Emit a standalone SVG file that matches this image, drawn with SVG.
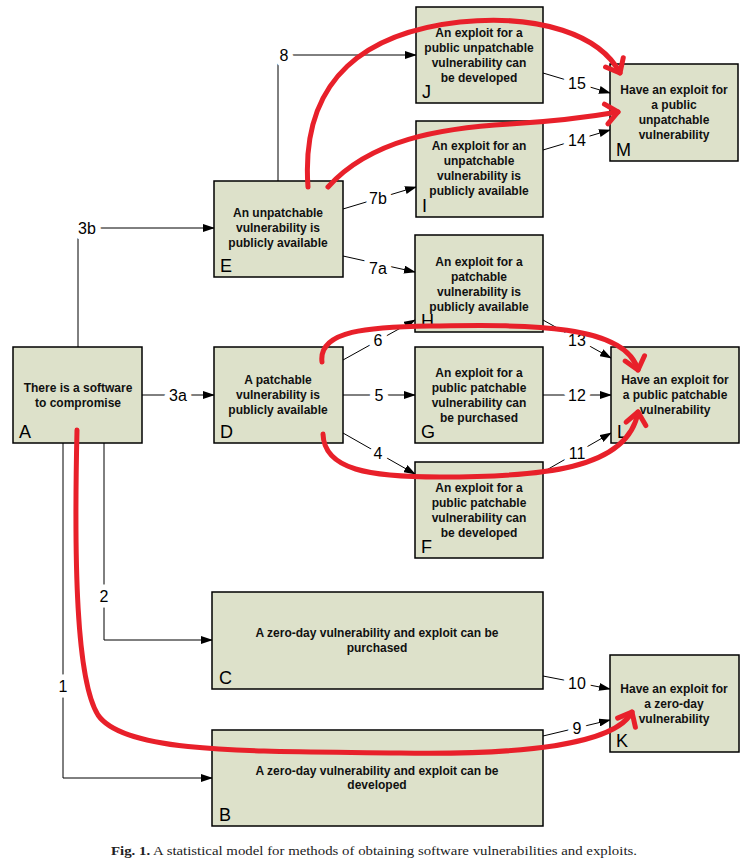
<svg xmlns="http://www.w3.org/2000/svg" width="749" height="866" viewBox="0 0 749 866">
<style>
.box{fill:#dde1ca;stroke:#000;stroke-width:1.5}
.t{font-family:"Liberation Sans",Arial,sans-serif;font-weight:bold;font-size:12px;text-anchor:middle;fill:#111}
.id{font-family:"Liberation Sans",Arial,sans-serif;font-size:18px;fill:#000}
.c{fill:none;stroke:#000;stroke-width:1}
.lbl{font-family:"Liberation Sans",Arial,sans-serif;font-size:16px;text-anchor:middle;fill:#000;stroke:#fff;stroke-width:11;paint-order:stroke;stroke-linejoin:round}
.red{fill:none;stroke:#e8202a;stroke-width:5;stroke-linecap:round}
.cap{font-family:"Liberation Serif","Times New Roman",serif;font-size:13px;fill:#222}
</style>
<defs>
<marker id="ar" markerWidth="12" markerHeight="8" refX="11" refY="4" orient="auto" markerUnits="userSpaceOnUse">
<path d="M0,0 L12,4 L0,8 Z" fill="#000"/>
</marker>
<marker id="rar" markerWidth="30" markerHeight="30" refX="15" refY="15" orient="auto" markerUnits="userSpaceOnUse">
<path d="M3,5 L15,15 L3,25" fill="none" stroke="#e8202a" stroke-width="5" stroke-linecap="round" stroke-linejoin="round"/>
</marker>
</defs>

<g id="connectors">
<path class="c" d="M142,395 H214" marker-end="url(#ar)"/>
<path class="c" d="M78,347 V228 H214" marker-end="url(#ar)"/>
<path class="c" d="M278,181 V55 H416" marker-end="url(#ar)"/>
<path class="c" d="M343,209 L416,187" marker-end="url(#ar)"/>
<path class="c" d="M343,256 L415,272" marker-end="url(#ar)"/>
<path class="c" d="M343,360 L415,320" marker-end="url(#ar)"/>
<path class="c" d="M343,395 H415" marker-end="url(#ar)"/>
<path class="c" d="M343,433 L415,474" marker-end="url(#ar)"/>
<path class="c" d="M543,320 L611,358" marker-end="url(#ar)"/>
<path class="c" d="M543,395 H611" marker-end="url(#ar)"/>
<path class="c" d="M543,472 L611,433" marker-end="url(#ar)"/>
<path class="c" d="M543,73 L610,93" marker-end="url(#ar)"/>
<path class="c" d="M543,150 L610,130" marker-end="url(#ar)"/>
<path class="c" d="M543,676 L610,689" marker-end="url(#ar)"/>
<path class="c" d="M543,736 L610,720" marker-end="url(#ar)"/>
<path class="c" d="M104,443 V640 H212" marker-end="url(#ar)"/>
<path class="c" d="M63,443 V778 H212" marker-end="url(#ar)"/>
<text class="lbl" x="178" y="401">3a</text>
<text class="lbl" x="87" y="234">3b</text>
<text class="lbl" x="284" y="61">8</text>
<text class="lbl" x="378" y="204">7b</text>
<text class="lbl" x="378" y="274">7a</text>
<text class="lbl" x="378" y="346">6</text>
<text class="lbl" x="379" y="401">5</text>
<text class="lbl" x="378" y="459">4</text>
<text class="lbl" x="577" y="346">13</text>
<text class="lbl" x="577" y="401">12</text>
<text class="lbl" x="577" y="459">11</text>
<text class="lbl" x="577" y="89">15</text>
<text class="lbl" x="577" y="146">14</text>
<text class="lbl" x="577" y="689">10</text>
<text class="lbl" x="577" y="734">9</text>
<text class="lbl" x="104" y="602">2</text>
<text class="lbl" x="63" y="692">1</text>
</g>

<g id="A"><rect class="box" x="13" y="347" width="129" height="96"/>
<text class="t" x="78" y="392">There is a software</text><text class="t" x="78" y="407">to compromise</text>
<text class="id" x="19" y="438">A</text></g>

<g id="D"><rect class="box" x="214" y="347" width="129" height="96"/>
<text class="t" x="278" y="384">A patchable</text><text class="t" x="278" y="399">vulnerability is</text><text class="t" x="278" y="414">publicly available</text>
<text class="id" x="220" y="438">D</text></g>

<g id="E"><rect class="box" x="214" y="181" width="129" height="96"/>
<text class="t" x="278" y="217">An unpatchable</text><text class="t" x="278" y="232">vulnerability is</text><text class="t" x="278" y="247">publicly available</text>
<text class="id" x="220" y="272">E</text></g>

<g id="J"><rect class="box" x="416" y="7" width="127" height="96"/>
<text class="t" x="479" y="37">An exploit for a</text><text class="t" x="479" y="52">public unpatchable</text><text class="t" x="479" y="67">vulnerability can</text><text class="t" x="479" y="82">be developed</text>
<text class="id" x="422" y="98">J</text></g>

<g id="I"><rect class="box" x="416" y="121" width="127" height="96"/>
<text class="t" x="479" y="150">An exploit for an</text><text class="t" x="479" y="165">unpatchable</text><text class="t" x="479" y="180">vulnerability is</text><text class="t" x="479" y="195">publicly available</text>
<text class="id" x="422" y="212">I</text></g>

<g id="H"><rect class="box" x="415" y="235" width="128" height="97"/>
<text class="t" x="479" y="266">An exploit for a</text><text class="t" x="479" y="281">patchable</text><text class="t" x="479" y="296">vulnerability is</text><text class="t" x="479" y="311">publicly available</text>
<text class="id" x="421" y="327">H</text></g>

<g id="G"><rect class="box" x="415" y="347" width="128" height="96"/>
<text class="t" x="479" y="377">An exploit for a</text><text class="t" x="479" y="392">public patchable</text><text class="t" x="479" y="407">vulnerability can</text><text class="t" x="479" y="422">be purchased</text>
<text class="id" x="421" y="438">G</text></g>

<g id="F"><rect class="box" x="415" y="462" width="128" height="96"/>
<text class="t" x="479" y="492">An exploit for a</text><text class="t" x="479" y="507">public patchable</text><text class="t" x="479" y="522">vulnerability can</text><text class="t" x="479" y="537">be developed</text>
<text class="id" x="421" y="553">F</text></g>

<g id="L"><rect class="box" x="611" y="347" width="128" height="96"/>
<text class="t" x="675" y="384">Have an exploit for</text><text class="t" x="675" y="399">a public patchable</text><text class="t" x="675" y="414">vulnerability</text>
<text class="id" x="617" y="438">L</text></g>

<g id="M"><rect class="box" x="610" y="64" width="128" height="97"/>
<text class="t" x="674" y="94">Have an exploit for</text><text class="t" x="674" y="109">a public</text><text class="t" x="674" y="124">unpatchable</text><text class="t" x="674" y="139">vulnerability</text>
<text class="id" x="616" y="156">M</text></g>

<g id="K"><rect class="box" x="610" y="655" width="129" height="97"/>
<text class="t" x="674" y="693">Have an exploit for</text><text class="t" x="674" y="708">a zero-day</text><text class="t" x="674" y="723">vulnerability</text>
<text class="id" x="616" y="747">K</text></g>

<g id="C"><rect class="box" x="212" y="592" width="331" height="97"/>
<text class="t" x="377" y="637">A zero-day vulnerability and exploit can be</text><text class="t" x="377" y="652">purchased</text>
<text class="id" x="219" y="684">C</text></g>

<g id="B"><rect class="box" x="212" y="730" width="331" height="96"/>
<text class="t" x="377" y="775">A zero-day vulnerability and exploit can be</text><text class="t" x="377" y="789">developed</text>
<text class="id" x="219" y="821">B</text></g>

<g id="highlights">
<path class="red" d="M308,187 C300,75 370,32 460,22 C540,14 600,35 620,73" marker-end="url(#rar)"/>
<path class="red" d="M328,187 C370,140 440,128 510,124 C560,121 595,116 618,112" marker-end="url(#rar)"/>
<path class="red" d="M322,362 C318,330 370,327 430,326 C520,325 625,322 638,370" marker-end="url(#rar)"/>
<path class="red" d="M323,434 C324,470 370,477 440,477 C540,477 628,470 638,412" marker-end="url(#rar)"/>
<path class="red" d="M77,430 C74,560 76,680 98,715 C125,755 260,751 400,753 C520,755 615,745 632,712" marker-end="url(#rar)"/>
</g>

<text class="cap" x="374" y="855" text-anchor="middle" textLength="526" lengthAdjust="spacingAndGlyphs"><tspan font-weight="bold">Fig. 1.</tspan> A statistical model for methods of obtaining software vulnerabilities and exploits.</text>
</svg>
